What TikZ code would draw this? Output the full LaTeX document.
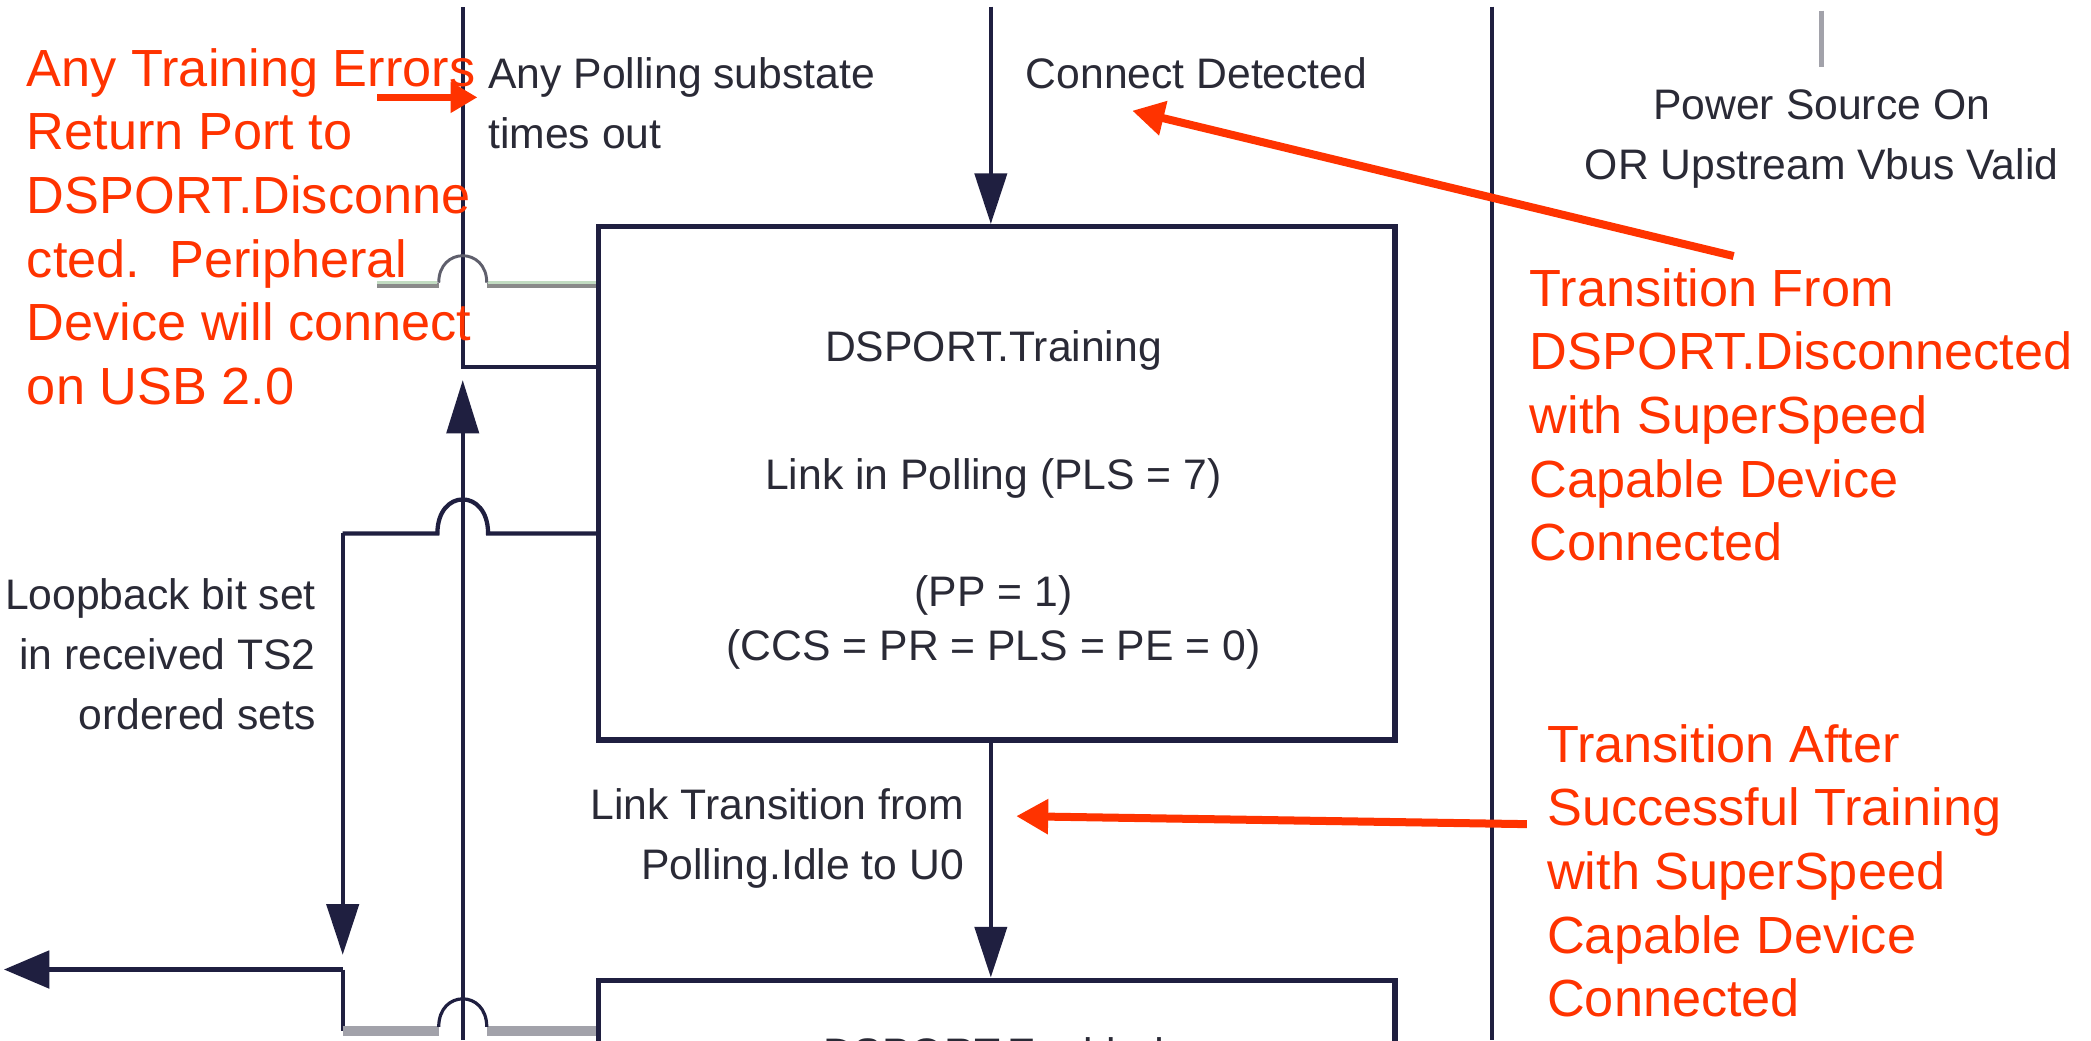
\documentclass[tikz,border=0pt]{standalone}
\usepackage{fontspec}
\setmainfont{Liberation Sans}
\usetikzlibrary{arrows.meta}
\definecolor{navy}{HTML}{1F1F40}
\definecolor{note}{HTML}{FF3300}
\definecolor{ink}{HTML}{2A2A36}
\definecolor{wire}{HTML}{8A8A8A}
\definecolor{wiretint}{HTML}{C2DCC2}
\definecolor{bus}{HTML}{A2A2AA}
\frenchspacing
\begin{document}
\begin{tikzpicture}[x=1pt,y=-1pt,
  line/.style={draw=navy, line width=3.2pt},
  statebox/.style={draw=navy, line width=4pt, minimum width=597pt, inner sep=0pt},
  lbl/.style={text=ink, font=\fontsize{32}{45}\selectfont, inner sep=0pt},
  callout/.style={text=note, font=\fontsize{39.2}{47.75}\selectfont, inner sep=0pt, align=left, anchor=north west},
  redarrow/.style={draw=note, line width=6pt, -{Triangle[length=24pt,width=25pt]}},
  tipdown/.style={-{Triangle[length=38pt,width=24pt]}},
  hop/.style={draw=navy, line width=2.4pt}
]
\useasboundingbox (0,0) rectangle (1568,780);
\fill[white] (0,0) rectangle (1568,780);
\clip (0,0) rectangle (1568,780);

% state boxes
\node[statebox, minimum height=385pt] (training) at (747.5,362.5) {};
\node[statebox, minimum height=300pt] (enabled) at (747.5,885) {};

% state texts
\node[lbl, anchor=base] (tname) at (745,271) {DSPORT.Training};
\node[lbl, anchor=base] (tlink) at (745,367) {Link in Polling (PLS = 7)};
\node[lbl, anchor=base] (tpp) at (745,455) {(PP = 1)};
\node[lbl, anchor=base] (tccs) at (745,495) {(CCS = PR = PLS = PE = 0)};
\node[lbl, anchor=base] (ename) at (745,801) {DSPORT.Enabled};

% transition labels
\node[lbl, align=left, anchor=north west] (poll) at (366,43) {Any Polling substate\\times out};
\node[lbl, anchor=base west] (conn) at (769,66) {Connect Detected};
\node[lbl, align=center, anchor=north] (power) at (1366,67) {Power Source On\\OR Upstream Vbus Valid};
\node[lbl, align=right, anchor=north east] (ltrans) at (723,591) {Link Transition from\\Polling.Idle to U0};
\node[lbl, align=right, anchor=north east] (loop) at (237,434) {Loopback bit set\\in received TS2\\ordered sets};

% named end points
\coordinate (topA) at (347,5);
\coordinate (kneeA) at (347,275);
\coordinate (botA) at (347,780);
\coordinate (tipA) at (347,285);
\coordinate (topB) at (743,5);
\coordinate (topC) at (1119,5);
\coordinate (botC) at (1119,780);
\coordinate (ptop) at (1366,8);
\coordinate (pbot) at (1366,50);
\coordinate (wstart) at (283,214);
\coordinate (kneeL) at (257,400);
\coordinate (tipL) at (257,716);
\coordinate (junc) at (257,727);
\coordinate (exitL) at (3,727);
\coordinate (busL) at (257,773);

% vertical lines
\draw[line] (topC) -- (botC);
\draw[bus, line width=4pt] (ptop) -- (pbot);
\draw[line] (training.west |- kneeA) -- (kneeA) -- (topA);
\draw[line, -{Triangle[length=40pt,width=24pt]}] (botA) -- (tipA);
\draw[line, tipdown] (topB) -- (topB |- training.north);
\draw[line, tipdown] (topB |- training.south) -- (topB |- enabled.north);

% upper wire hopping over the vertical line
\draw[wire, line width=4pt] (wstart) -- (329,214) (365,214) -- (training.west |- wstart);
\draw[wiretint, line width=2.2pt] (283,211.5) -- (328,211.5) (366,211.5) -- (447,211.5);
\draw[hop, draw=wire!60!navy, line width=2.2pt] (329,212) .. controls (329,185) and (365,185) .. (365,212);

% loopback path
\draw[line] (training.west |- kneeL) -- (366,400) .. controls (366,366) and (328,366) .. (328,400) -- (kneeL);
\draw[line, tipdown] (kneeL) -- (tipL);
\draw[line, -{Triangle[length=34pt,width=28pt]}] (junc) -- (exitL);
\draw[line] (junc) -- (busL);

% lower bus hopping over the vertical line
\draw[bus, line width=7pt] (busL) -- (329,773) (365,773) -- (enabled.west |- busL);
\draw[hop] (329,770) .. controls (329,742) and (365,742) .. (365,770);

% callouts
\node[callout] (err) at (20,36) {Any Training Errors\\Return Port to\\DSPORT.Disconne\\cted.\ \ Peripheral\\Device will connect\\on USB 2.0};
\node[callout] (from) at (1147,201) {Transition From\\DSPORT.Disconnected\\with SuperSpeed\\Capable Device\\Connected};
\node[callout] (after) at (1160,543) {Transition After\\Successful Training\\with SuperSpeed\\Capable Device\\Connected};

\coordinate (e1) at (283,73);
\coordinate (e2) at (358,73);
\coordinate (f1) at (1300,192);
\coordinate (f2) at (849,83);
\coordinate (a1) at (1145,618);
\coordinate (a2) at (762,612);
\draw[redarrow, line width=5pt, -{Triangle[length=20pt,width=22pt]}] (e1) -- (e2);
\draw[redarrow] (f1) -- (f2);
\draw[redarrow] (a1) -- (a2);
\end{tikzpicture}
\end{document}
